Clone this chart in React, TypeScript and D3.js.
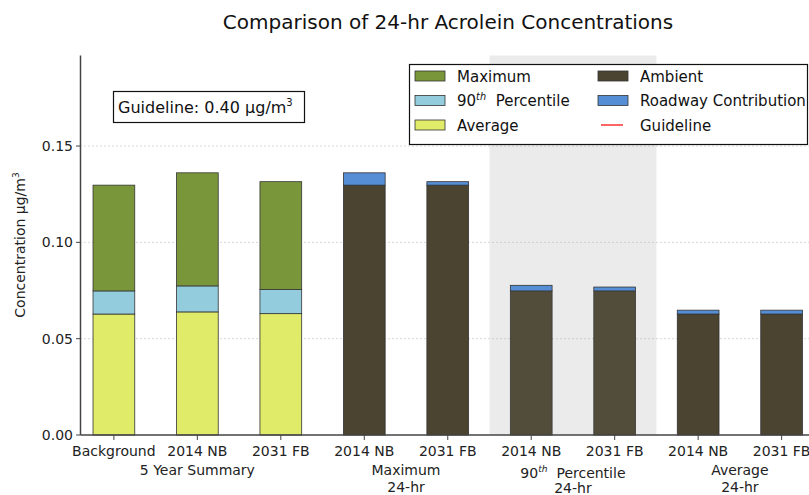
import React from 'react';
import * as d3 from 'd3';

// x tick labels, one per bar
const categories = ['Background', '2014 NB', '2031 FB', '2014 NB', '2031 FB', '2014 NB', '2031 FB', '2014 NB', '2031 FB'];

// 5 year summary (first three bars), stacked levels
const summaryAverage = [0.0628, 0.0639, 0.063];
const summary90th = [0.0748, 0.0774, 0.0755];
const summaryMax = [0.1297, 0.1361, 0.1315];

// ambient + roadway contribution (bars 3..8)
const ambient = [0.1297, 0.1297, 0.0748, 0.0748, 0.0628, 0.0628];
const roadway = [0.0064, 0.0018, 0.0029, 0.002, 0.002, 0.002];

const groups = [
    { label: ['5 Year Summary'], at: 1 },
    { label: ['Maximum', '24-hr'], at: 3.5 },
    { label: ['90th Percentile', '24-hr'], at: 5.5 },
    { label: ['Average', '24-hr'], at: 7.5 },
];

const yTicks = [0, 0.05, 0.1, 0.15];

const C = {
    max: '#7a963b',
    p90: '#93cddd',
    avg: '#e0eb6a',
    ambient: '#4a4430',
    roadway: '#558ed5',
    guide: '#ff0000',
};

const W = 809;
const H = 495;
const FONT = 'DejaVu Sans, sans-serif';

function Ninety({ size }: { size: number }) {
    return (
        <>
            <tspan>90</tspan>
            <tspan fontSize={size * 0.65} fontStyle="italic" dy={-size * 0.4}>th</tspan>
            <tspan dy={size * 0.4}>{'\u00a0 Percentile'}</tspan>
        </>
    );
}

export default function App() {
    const x = d3.scaleLinear().domain([-0.4, 8.4]).range([80.5, 815]);
    const y = d3.scaleLinear().domain([0, 0.197]).range([435, 55.5]);
    const bw = x(0.25) - x(-0.25);

    type Seg = { i: number; y0: number; y1: number; fill: string };
    const segs: Seg[] = [];
    summaryAverage.forEach((v, i) => {
        segs.push({ i, y0: 0, y1: v, fill: C.avg });
        segs.push({ i, y0: v, y1: summary90th[i], fill: C.p90 });
        segs.push({ i, y0: summary90th[i], y1: summaryMax[i], fill: C.max });
    });
    ambient.forEach((v, k) => {
        const i = k + 3;
        segs.push({ i, y0: 0, y1: v, fill: C.ambient });
        segs.push({ i, y0: v, y1: v + roadway[k], fill: C.roadway });
    });

    const legendLeft = [
        { name: 'Maximum', fill: C.max },
        { name: '90th', fill: C.p90 },
        { name: 'Average', fill: C.avg },
    ];
    const legendRight = [
        { name: 'Ambient', fill: C.ambient },
        { name: 'Roadway Contribution', fill: C.roadway },
        { name: 'Guideline', fill: null },
    ];

    return (
        <div style={{ position: 'absolute', left: 0, top: 0 }}>
            <svg width={W} height={H} style={{ display: 'block', background: '#fff' }} fontFamily={FONT}>
                <text x={448} y={29} textAnchor="middle" fontSize={20} fill="#111">
                    Comparison of 24-hr Acrolein Concentrations
                </text>

                {/* shaded 90th percentile band */}
                <rect x={x(4.5)} y={55.5} width={x(6.5) - x(4.5)} height={435 - 55.5} fill="#ebebeb" />

                {/* grid */}
                {yTicks.filter((t) => t > 0).map((t) => (
                    <line key={t} x1={80.5} x2={W} y1={y(t)} y2={y(t)} stroke="#b0b0b0" strokeWidth={1} strokeDasharray="1,3" />
                ))}

                {/* bars */}
                {segs.map((s, n) => (
                    <rect
                        key={n}
                        x={x(s.i) - bw / 2}
                        y={y(s.y1)}
                        width={bw}
                        height={y(s.y0) - y(s.y1)}
                        fill={s.fill}
                        stroke="#333"
                        strokeWidth={0.8}
                    />
                ))}

                {/* bars inside the band look lighter */}
                {ambient.map((v, k) => {
                    const i = k + 3;
                    if (i < 5 || i > 6) return null;
                    return (
                        <rect key={'t' + k} x={x(i) - bw / 2} y={y(v)} width={bw} height={y(0) - y(v)} fill="#8a8a80" opacity={0.12} />
                    );
                })}

                {/* axes */}
                <line x1={80.5} x2={80.5} y1={55.5} y2={435} stroke="#444" strokeWidth={1.5} />
                <line x1={80.5} x2={W} y1={435} y2={435} stroke="#444" strokeWidth={1.5} />
                {yTicks.map((t) => (
                    <g key={t}>
                        <line x1={76} x2={80.5} y1={y(t)} y2={y(t)} stroke="#444" />
                        <text x={73} y={y(t) + 5} textAnchor="end" fontSize={14} fill="#222">
                            {d3.format('.2f')(t)}
                        </text>
                    </g>
                ))}
                {categories.map((c, i) => (
                    <g key={i}>
                        <line x1={x(i)} x2={x(i)} y1={435} y2={440} stroke="#444" />
                        <text x={x(i)} y={456} textAnchor="middle" fontSize={14} fill="#222">{c}</text>
                    </g>
                ))}
                {groups.map((g) => {
                    const is90 = g.label[0].startsWith('90');
                    return (
                        <text key={g.at} x={x(g.at)} y={is90 ? 478 : 475} textAnchor="middle" fontSize={14} fill="#222">
                            {is90 ? <Ninety size={14} /> : g.label[0]}
                            {g.label[1] && (
                                <tspan x={x(g.at)} dy={is90 ? 15 : 17}>{g.label[1]}</tspan>
                            )}
                        </text>
                    );
                })}

                <text transform="translate(25,245) rotate(-90)" textAnchor="middle" fontSize={14} fill="#222">
                    Concentration μg/m<tspan fontSize={9} dy={-6}>3</tspan>
                </text>

                {/* guideline note */}
                <rect x={113.5} y={91.5} width={191} height={31} fill="#fff" stroke="#111" strokeWidth={1.2} />
                <text x={118} y={113} fontSize={16} fill="#111">
                    Guideline: 0.40 μg/m<tspan fontSize={10} dy={-7}>3</tspan>
                </text>

                {/* legend */}
                <rect x={409.5} y={64.5} width={398} height={80} fill="#fff" stroke="#111" strokeWidth={1.2} />
                {legendLeft.map((d, k) => (
                    <g key={d.name} transform={`translate(415,${76 + k * 24.5})`}>
                        <rect x={0} y={-5} width={30} height={10} fill={d.fill} stroke="#333" strokeWidth={0.8} />
                        <text x={42} y={5.5} fontSize={15} fill="#111">
                            {d.name === '90th' ? <Ninety size={15} /> : d.name}
                        </text>
                    </g>
                ))}
                {legendRight.map((d, k) => (
                    <g key={d.name} transform={`translate(598,${76 + k * 24.5})`}>
                        {d.fill ? (
                            <rect x={0} y={-5} width={30} height={10} fill={d.fill} stroke="#333" strokeWidth={0.8} />
                        ) : (
                            <line x1={3} x2={25} y1={0} y2={0} stroke={C.guide} strokeWidth={1.2} />
                        )}
                        <text x={42} y={5.5} fontSize={15} fill="#111">{d.name}</text>
                    </g>
                ))}
            </svg>
        </div>
    );
}
